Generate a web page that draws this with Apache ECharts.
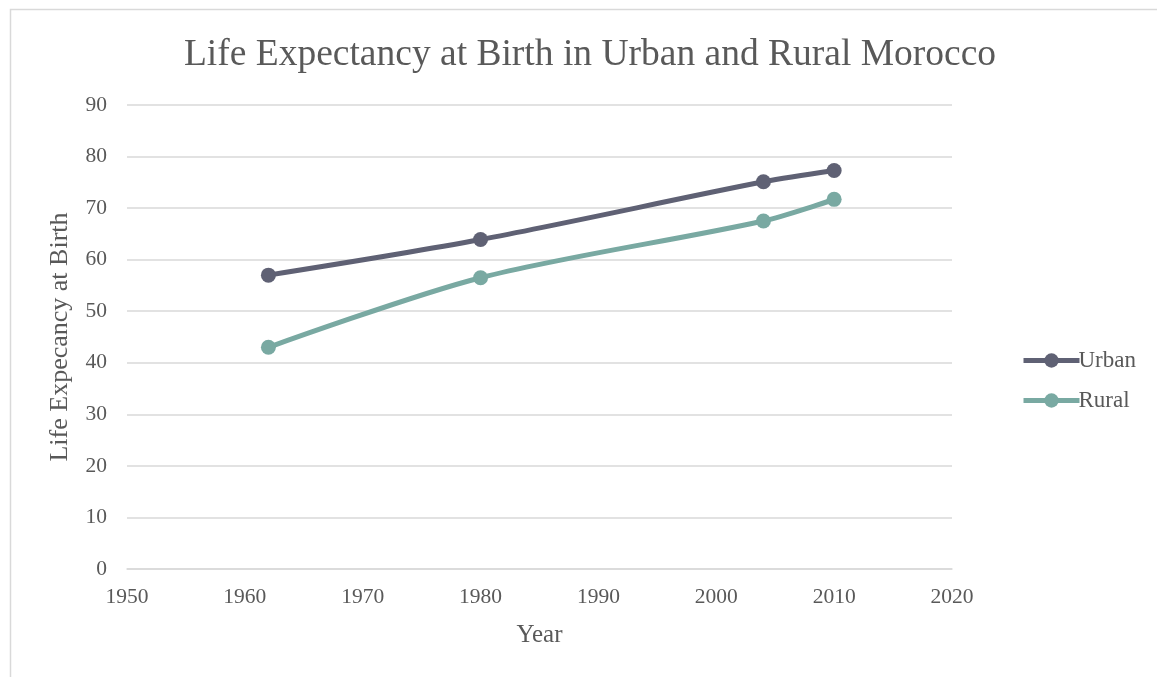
<!DOCTYPE html>
<html style="height: 100%">
<head>
<meta charset="utf-8">
</head>
<body style="height: 100%; margin: 0; background: #fff">
<div id="container" style="width: 1157px; height: 677px;"></div>
<script type="text/javascript" src="https://cdn.jsdelivr.net/npm/echarts@6/dist/echarts.min.js"></script>
<script type="text/javascript">
var years = [1962, 1980, 2004, 2010];
var urban = [57, 63.9, 75.1, 77.3];
var rural = [43, 56.5, 67.5, 71.7];

var FONT = '"Liberation Serif", "Times New Roman", serif';
var TXT = '#595959';

var myChart = echarts.init(document.getElementById('container'));

function pairs(vals) {
	return years.map(function (y, i) { return [y, vals[i]]; });
}

var option = {
	backgroundColor: '#fff',
	animation: false,
	textStyle: {fontFamily: FONT},
	graphic: [{
		type: 'rect',
		shape: {x: 10.5, y: 9.5, width: 1160, height: 680},
		style: {fill: 'none', stroke: '#d9d9d9', lineWidth: 1.5}
	}],
	title: {
		text: 'Life Expectancy at Birth in Urban and Rural Morocco',
		left: 585,
		textAlign: 'center',
		top: 31,
		textStyle: {fontFamily: FONT, fontSize: 37.5, fontWeight: 'normal', color: TXT}
	},
	legend: {
		orient: 'vertical',
		left: 1016,
		top: 344,
		itemGap: 17,
		itemWidth: 56,
		itemHeight: 18,
		lineStyle: {width: 5},
		textStyle: {fontFamily: FONT, fontSize: 23, color: TXT, padding: [0, 0, 0, -6]},
		data: ['Urban', 'Rural']
	},
	grid: {left: 127, right: 205, top: 105, bottom: 108},
	xAxis: {
		type: 'value',
		min: 1950,
		max: 2020,
		interval: 10,
		name: 'Year',
		nameLocation: 'middle',
		nameGap: 54,
		nameTextStyle: {fontFamily: FONT, fontSize: 25, color: TXT},
		axisLine: {show: true, lineStyle: {color: '#d9d9d9', width: 1.5}},
		axisTick: {show: false},
		splitLine: {show: false},
		axisLabel: {fontFamily: FONT, fontSize: 21.5, color: TXT, margin: 17,
			formatter: function (v) { return String(v); }}
	},
	yAxis: {
		type: 'value',
		min: 0,
		max: 90,
		interval: 10,
		name: 'Life Expecancy at Birth',
		nameLocation: 'middle',
		nameGap: 54,
		nameTextStyle: {fontFamily: FONT, fontSize: 26, color: TXT},
		axisLine: {show: false},
		axisTick: {show: false},
		splitLine: {lineStyle: {color: '#d9d9d9', width: 1.5}},
		axisLabel: {fontFamily: FONT, fontSize: 21.5, color: TXT, margin: 20}
	},
	series: [
		{
			name: 'Urban',
			type: 'line',
			smooth: 0.3,
			symbol: 'circle',
			symbolSize: 15,
			lineStyle: {width: 5, color: '#5f6174'},
			itemStyle: {color: '#5f6174'},
			data: pairs(urban)
		},
		{
			name: 'Rural',
			type: 'line',
			smooth: 0.3,
			symbol: 'circle',
			symbolSize: 15,
			lineStyle: {width: 5, color: '#79a9a2'},
			itemStyle: {color: '#79a9a2'},
			data: pairs(rural)
		}
	]
};

myChart.setOption(option);
</script>
</body>
</html>
